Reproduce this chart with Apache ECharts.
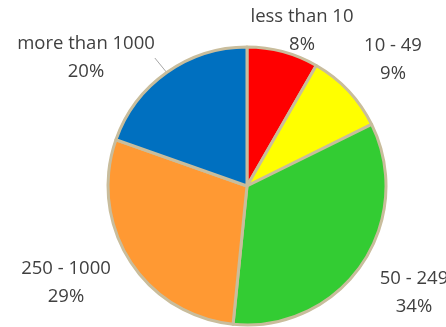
<!DOCTYPE html>
<html><head><meta charset="utf-8">
<script src="https://cdn.jsdelivr.net/npm/echarts@6/dist/echarts.min.js"></script>
<style>html,body{margin:0;padding:0;background:#fff}#c{width:446px;height:327px}</style>
</head><body><div id="c"></div>
<script>
const categories = ['less than 10', '10 - 49', '50 - 249', '250 - 1000', 'more than 1000'];
const values = [8.3, 9.4, 33.9, 28.8, 19.6];
const colors = ['#ff0000', '#ffff00', '#33cc33', '#ff9933', '#0070c0'];
// label anchor positions (layout only)
const labelPos = [[302, 31], [393, 60], [414, 293], [66, 283], [86, 58]];

const chart = echarts.init(document.getElementById('c'));
chart.setOption({
  animation: false,
  series: [{
    type: 'pie',
    center: [247, 186],
    radius: [0, 139],
    startAngle: 90,
    clockwise: true,
    percentPrecision: 0,
    itemStyle: { borderColor: '#c9bd9c', borderWidth: 3 },
    label: {
      show: true,
      position: 'outside',
      formatter: '{b}\n{d}%',
      fontFamily: 'Open Sans',
      fontSize: 18.5,
      lineHeight: 28,
      color: '#404040',
      align: 'center',
      overflow: 'none'
    },
    labelLine: { show: false, lineStyle: { color: '#a6a6a6', width: 1 } },
    labelLayout: function (p) {
      const pos = labelPos[p.dataIndex];
      return { x: pos[0], y: pos[1], align: 'center', verticalAlign: 'middle', hideOverlap: false, moveOverlap: null };
    },
    emphasis: { disabled: true },
    data: categories.map((c, i) => ({
      name: c, value: values[i],
      itemStyle: { color: colors[i] },
      labelLine: i === 4 ? { show: true, length: 8, length2: 0 } : undefined
    }))
  }]
});
</script></body></html>
